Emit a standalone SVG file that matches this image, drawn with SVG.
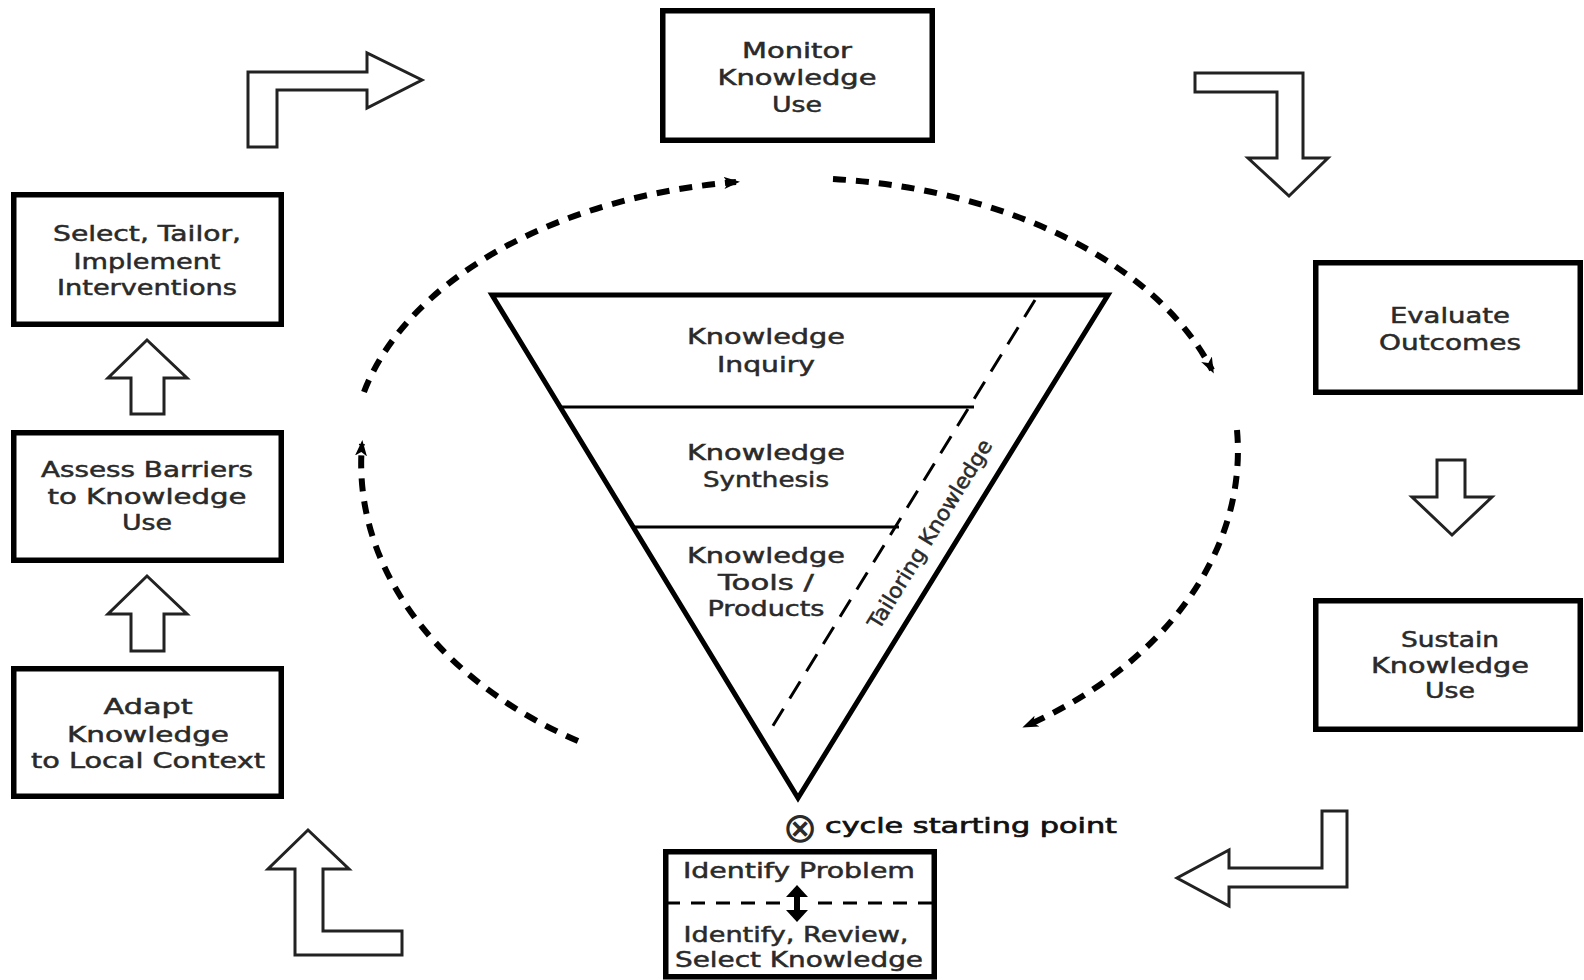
<svg xmlns="http://www.w3.org/2000/svg" width="1584" height="980" viewBox="0 0 1584 980">
<defs>
<style>
.box{fill:#fff;stroke:#000;stroke-width:5.5}
.t{font-family:"DejaVu Sans",sans-serif;font-size:21px;fill:#2a2a2a;stroke:#2a2a2a;stroke-width:0.5;text-anchor:middle}
.blk{fill:#fff;stroke:#222;stroke-width:3;stroke-linejoin:miter}
.arc{fill:none;stroke:#000;stroke-width:6;stroke-dasharray:13 10}
.tri{fill:none;stroke:#000;stroke-width:5;stroke-linejoin:miter}
</style>
<marker id="ah" viewBox="0 0 16 14" refX="12" refY="7" markerWidth="16" markerHeight="14" markerUnits="userSpaceOnUse" orient="auto">
<path d="M0,1 L16,7 L0,13 L4,7 Z" fill="#000"/>
</marker>
</defs>
<rect width="1584" height="980" fill="#fff"/>

<g id="connectors">
<path class="arc" d="M364 392 A441 277 0 0 1 736 182" marker-end="url(#ah)"/>
<path class="arc" d="M833 179 A441 277 0 0 1 1212 370" marker-end="url(#ah)"/>
<path class="arc" d="M1237 430 A441 322 0 0 1 1026 726" marker-end="url(#ah)"/>
<path class="arc" d="M578 741 A441 322 0 0 1 362 444" marker-end="url(#ah)"/>
<polygon class="blk" points="248,147 248,72 367,72 367,53 422,80 367,108 367,90 277,90 277,147"/>
<polygon class="blk" points="1195,73 1303,73 1303,158 1328,158 1289,196 1248,158 1277,158 1277,92 1195,92"/>
<polygon class="blk" points="1437,460 1465,460 1465,497 1492,497 1452,535 1412,497 1437,497"/>
<polygon class="blk" points="1322,811 1347,811 1347,887 1229,887 1229,906 1177,878 1229,850 1229,868 1322,868"/>
<polygon class="blk" points="295,955 402,955 402,931 323,931 323,869 349,869 308,830 268,869 295,869"/>
<polygon class="blk" points="131,414 164,414 164,378 187,378 147,340 108,378 131,378"/>
<polygon class="blk" points="131,651 164,651 164,614 187,614 147,576 108,614 131,614"/>
</g>

<g id="triangle">
<polygon class="tri" points="492,295 1108,295 798,798"/>
<line x1="561" y1="407" x2="974" y2="407" stroke="#000" stroke-width="3"/>
<line x1="634" y1="527" x2="899" y2="527" stroke="#000" stroke-width="3"/>
<line x1="1035" y1="300" x2="771" y2="729" stroke="#000" stroke-width="3" stroke-dasharray="20 12"/>
<text class="t" x="766" y="344" textLength="158" lengthAdjust="spacingAndGlyphs">Knowledge</text>
<text class="t" x="766" y="372" textLength="98" lengthAdjust="spacingAndGlyphs">Inquiry</text>
<text class="t" x="766" y="460" textLength="158" lengthAdjust="spacingAndGlyphs">Knowledge</text>
<text class="t" x="766" y="487" textLength="126" lengthAdjust="spacingAndGlyphs">Synthesis</text>
<text class="t" x="766" y="563" textLength="158" lengthAdjust="spacingAndGlyphs">Knowledge</text>
<text class="t" x="766" y="590" textLength="96" lengthAdjust="spacingAndGlyphs">Tools /</text>
<text class="t" x="766" y="616" textLength="117" lengthAdjust="spacingAndGlyphs">Products</text>
<text class="t" x="0" y="0" transform="translate(936,538) rotate(-58.4)" textLength="218" lengthAdjust="spacingAndGlyphs">Tailoring Knowledge</text>
</g>

<g id="monitor">
<rect class="box" x="662.75" y="10.75" width="269.5" height="129.5"/>
<text class="t" x="797" y="58" textLength="110" lengthAdjust="spacingAndGlyphs">Monitor</text>
<text class="t" x="797" y="85" textLength="159" lengthAdjust="spacingAndGlyphs">Knowledge</text>
<text class="t" x="797" y="112" textLength="50" lengthAdjust="spacingAndGlyphs">Use</text>
</g>

<g id="evaluate">
<rect class="box" x="1315.75" y="262.75" width="264.5" height="129.5"/>
<text class="t" x="1450" y="323" textLength="120" lengthAdjust="spacingAndGlyphs">Evaluate</text>
<text class="t" x="1450" y="350" textLength="142" lengthAdjust="spacingAndGlyphs">Outcomes</text>
</g>

<g id="sustain">
<rect class="box" x="1315.75" y="600.75" width="264.5" height="128.5"/>
<text class="t" x="1450" y="647" textLength="98" lengthAdjust="spacingAndGlyphs">Sustain</text>
<text class="t" x="1450" y="673" textLength="158" lengthAdjust="spacingAndGlyphs">Knowledge</text>
<text class="t" x="1450" y="698" textLength="50" lengthAdjust="spacingAndGlyphs">Use</text>
</g>

<g id="identify">
<rect class="box" x="665.75" y="851.75" width="268.5" height="125"/>
<text class="t" x="799" y="878" textLength="232" lengthAdjust="spacingAndGlyphs">Identify Problem</text>
<line x1="666" y1="903" x2="780" y2="903" stroke="#000" stroke-width="3" stroke-dasharray="14 11"/>
<line x1="818" y1="903" x2="934" y2="903" stroke="#000" stroke-width="3" stroke-dasharray="14 11"/>
<line x1="797" y1="893" x2="797" y2="914" stroke="#000" stroke-width="6"/>
<polygon points="786,897 797,885 808,897" fill="#000"/>
<polygon points="786,910 797,922 808,910" fill="#000"/>
<text class="t" x="796" y="942" textLength="225" lengthAdjust="spacingAndGlyphs">Identify, Review,</text>
<text class="t" x="799" y="967" textLength="248" lengthAdjust="spacingAndGlyphs">Select Knowledge</text>
</g>

<g id="start-label">
<text class="t" x="800" y="842" style="font-size:42px;stroke-width:0">⊗</text>
<text class="t" x="825" y="833" style="text-anchor:start;font-size:22px;fill:#111;stroke:#111;stroke-width:0.7" textLength="292" lengthAdjust="spacingAndGlyphs">cycle starting point</text>
</g>

<g id="select">
<rect class="box" x="13.75" y="194.75" width="267.5" height="129.5"/>
<text class="t" x="147" y="241" textLength="188" lengthAdjust="spacingAndGlyphs">Select, Tailor,</text>
<text class="t" x="147" y="269" textLength="147" lengthAdjust="spacingAndGlyphs">Implement</text>
<text class="t" x="147" y="295" textLength="180" lengthAdjust="spacingAndGlyphs">Interventions</text>
</g>

<g id="assess">
<rect class="box" x="13.75" y="432.75" width="267.5" height="127.5"/>
<text class="t" x="147" y="477" textLength="212" lengthAdjust="spacingAndGlyphs">Assess Barriers</text>
<text class="t" x="147" y="504" textLength="199" lengthAdjust="spacingAndGlyphs">to Knowledge</text>
<text class="t" x="147" y="530" textLength="50" lengthAdjust="spacingAndGlyphs">Use</text>
</g>

<g id="adapt">
<rect class="box" x="13.75" y="668.75" width="267.5" height="127.5"/>
<text class="t" x="148" y="714" textLength="89" lengthAdjust="spacingAndGlyphs">Adapt</text>
<text class="t" x="148" y="742" textLength="162" lengthAdjust="spacingAndGlyphs">Knowledge</text>
<text class="t" x="148" y="768" textLength="234" lengthAdjust="spacingAndGlyphs">to Local Context</text>
</g>
</svg>
